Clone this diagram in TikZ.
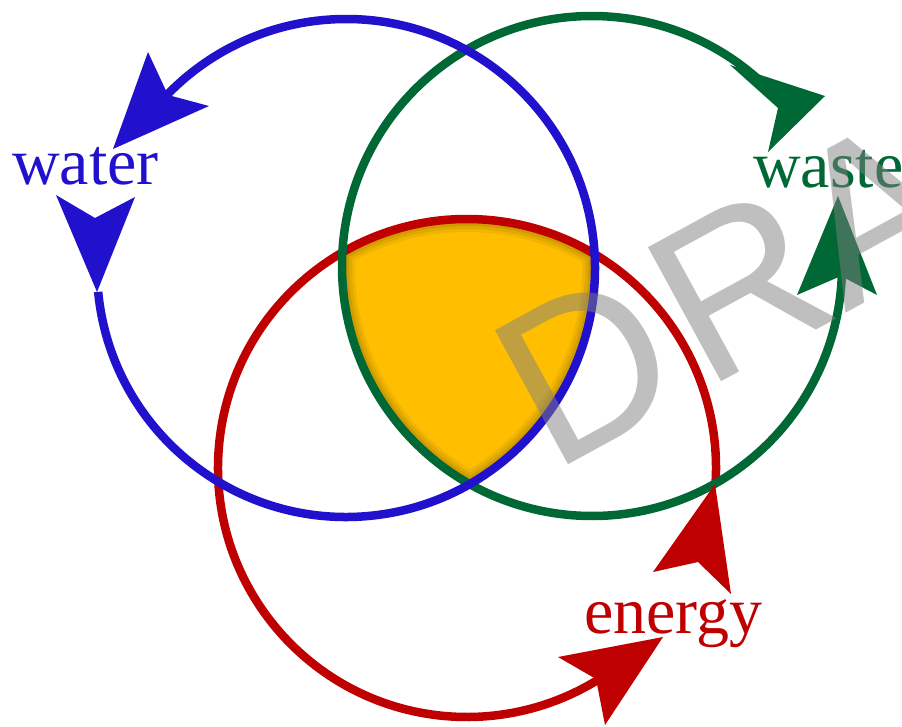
\documentclass[tikz,border=0pt]{standalone}
\usepackage{fontspec}
\setmainfont{Liberation Serif}
\newfontfamily\wmfont{Liberation Sans}
\definecolor{cblue}{RGB}{34,17,204}
\definecolor{cgreen}{RGB}{0,104,52}
\definecolor{cred}{RGB}{190,0,0}
\definecolor{corange}{RGB}{255,191,0}
\begin{document}
\begin{tikzpicture}[x=1pt,y=-1pt,
  ring/.style={line width=8.5pt},
  lbl/.style={anchor=base west, inner sep=0pt, font=\fontsize{66}{70}\selectfont},
  wm/.style={rotate=28.6, anchor=base west, inner sep=0pt, text=black!50, text opacity=0.5,
             font=\wmfont\fontsize{222}{222}\selectfont}]
\useasboundingbox (0,0) rectangle (902,726);
\coordinate (cb) at (346,268);
\coordinate (cg) at (592,266);
\coordinate (cr) at (467,468);
% shared region
\begin{scope}
  \clip (cb) circle[radius=249pt];
  \clip (cg) circle[radius=250pt];
  \clip (cr) circle[radius=249pt];
  \fill[corange] (cr) circle[radius=249pt];
  \foreach \w/\o in {26/0.12, 20/0.15, 14/0.2}{
    \draw[corange!55!black, opacity=\o, line width=\w pt]
      (cb) circle[radius=249pt] (cg) circle[radius=250pt] (cr) circle[radius=249pt];
  }
\end{scope}
% circles
\draw[ring, cred] (cr) ++(-4:249pt) arc[start angle=-4, end angle=301.5, radius=249pt];
\draw[ring, cgreen] (cg) ++(40.3:250pt) arc[start angle=40.3, end angle=357.9, radius=250pt];
\draw[ring, cblue] (cb) ++(185.5:249pt) arc[start angle=185.5, end angle=495.8, radius=249pt];
% arrowheads
\fill[cblue] (113,149) -- (148,52) -- (168,95) -- (209,106) -- cycle;
\fill[cblue] (97,292) -- (56,195) -- (95,218) -- (135,197) -- cycle;
\fill[cgreen] (825,96) -- (730,65) -- (778,108) -- (768,152) -- cycle;
\fill[cgreen] (838,196) -- (877,295) -- (841,276) -- (797,295) -- cycle;
\fill[cred] (715,484) -- (731,594) -- (698,562) -- (653,572) -- cycle;
\fill[cred] (663,637) -- (558,657) -- (596,679) -- (605,725) -- cycle;
% labels
\node[lbl, text=cblue] (water) at (12,184) {water};
\node[lbl, text=cgreen] (waste) at (753,187) {waste};
\node[lbl, text=cred] (energy) at (584,633) {energy};
% watermark
\node[wm] (draft) at (552,474) {D\kern14pt RAFT};
\end{tikzpicture}
\end{document}
